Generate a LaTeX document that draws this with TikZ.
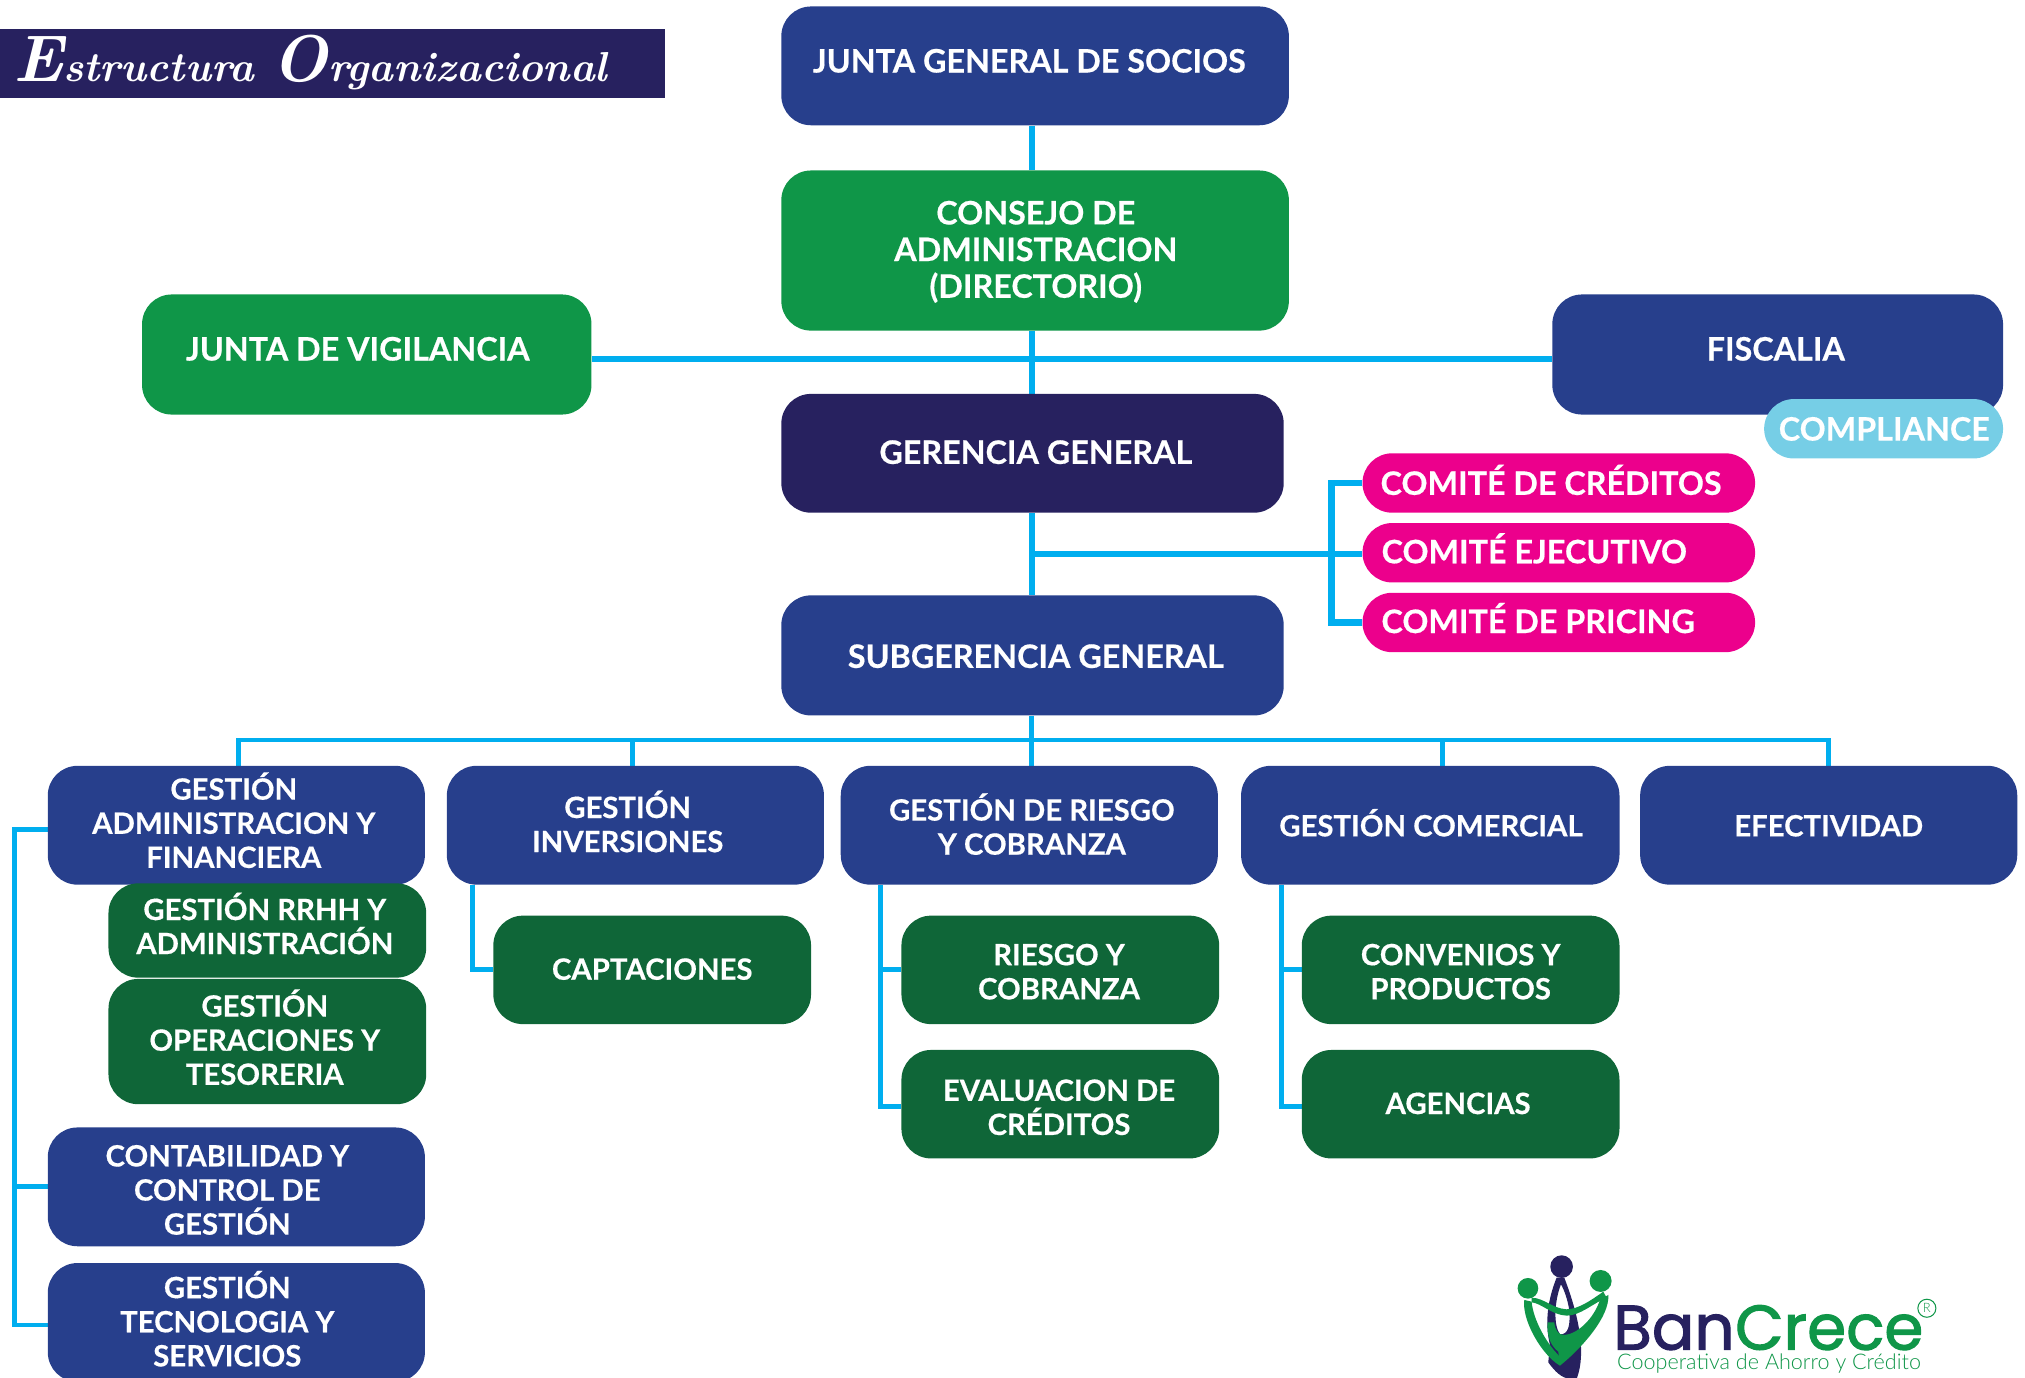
\documentclass[tikz,border=0pt]{standalone}
\usepackage{fontspec}
\usepackage{graphicx}
\usetikzlibrary{backgrounds}
\newfontfamily\boxfont[BoldFeatures={FakeBold=0.5}]{Lato}
\newfontfamily\logofont[FakeBold=1.8]{Poppins}
\newfontfamily\subfont{Lato Light}
\definecolor{cblue}{HTML}{273F8C}
\definecolor{cgreen}{HTML}{0F9648}
\definecolor{cdgreen}{HTML}{0F6638}
\definecolor{cnavy}{HTML}{27215F}
\definecolor{cpink}{HTML}{EC008C}
\definecolor{clight}{HTML}{76CEE6}
\definecolor{cline}{HTML}{00AEEF}
\tikzset{
  x=1pt,y=-1pt,
  box/.style={rectangle,rounded corners=23pt,inner sep=0pt,text=white,font=\boxfont\bfseries\fontsize{22.7}{26.4}\selectfont},
  big/.style={font=\boxfont\bfseries\fontsize{25}{28.4}\selectfont},
  blue box/.style={box,fill=cblue},
  green box/.style={box,fill=cgreen},
  dgreen box/.style={box,fill=cdgreen},
  navy box/.style={box,fill=cnavy},
  pink box/.style={box,fill=cpink},
  light box/.style={box,fill=clight},
  conn/.style={draw=cline,line width=3.8pt,line join=miter},
  conn thick/.style={conn,line width=4.8pt},
}
\newcommand{\sm}[1]{\smash{#1}}
\newcommand{\boff}{\ifdim\baselineskip>27pt 9.7pt\else 8.5pt\fi}
% \bx{style}{name}{x0}{y0}{x1}{y1}{text cx}{text cy}{lines}
\newcommand{\bx}[9]{%
  \pgfmathsetmacro{\bw}{#5-#3}\pgfmathsetmacro{\bh}{#6-#4}%
  \pgfmathsetmacro{\bcx}{(#3+#5)/2}\pgfmathsetmacro{\bcy}{(#4+#6)/2}%
  \pgfmathsetmacro{\bdx}{2*(#7-\bcx)}\pgfmathsetmacro{\bdy}{-(#8-\bcy)}%
  \node[#1,minimum width=\bw pt,minimum height=\bh pt] (#2) at (\bcx,\bcy)
    {\makebox[0pt]{\hspace*{\bdx pt}\raisebox{\dimexpr\bdy pt-\boff\relax}[0pt][0pt]{\begin{tabular}{@{}c@{}}#9\end{tabular}}}};%
}
\begin{document}
\begin{tikzpicture}
\useasboundingbox (0,0) rectangle (1568,1067);
% title
\node[rectangle,fill=cnavy,minimum width=515pt,minimum height=54pt,inner sep=0pt,anchor=north west] (banner) at (0,22) {};
\node[text=white,inner sep=0pt,anchor=base west,font=\itshape\bfseries\fontsize{36}{40}\selectfont] (title) at (10,63) {\resizebox{460pt}{!}{\fontsize{60}{60}\selectfont E\fontsize{38}{40}\selectfont structura \fontsize{60}{60}\selectfont O\fontsize{38}{40}\selectfont rganizacional}};
% boxes
\bx{blue box,big}{jgs}{605}{5}{998}{97}{797}{47}{JUNTA GENERAL DE SOCIOS}
\bx{green box,big}{consejo}{605}{132}{998}{256}{802}{193}{CONSEJO DE\\ADMINISTRACION\\(DIRECTORIO)}
\bx{green box,big}{vig}{110}{228}{458}{321}{277}{270}{JUNTA DE VIGILANCIA}
\bx{blue box,big}{fis}{1202}{228}{1551}{321}{1375}{270}{FISCALIA}
\bx{light box,big}{comp}{1366}{309}{1551}{355}{1459}{332}{COMPLIANCE}
\bx{navy box,big}{gg}{605}{305}{994}{397}{802}{350}{GERENCIA GENERAL}
\bx{blue box,big}{sg}{605}{461}{994}{554}{802}{508}{SUBGERENCIA GENERAL}
\bx{pink box,big}{com1}{1055}{351}{1359}{397}{1201}{374}{\sm{COMITÉ DE CRÉDITOS}}
\bx{pink box,big}{com2}{1055}{405}{1359}{451}{1188}{427}{\sm{COMITÉ EJECUTIVO}}
\bx{pink box,big}{com3}{1055}{459}{1359}{505}{1191}{481}{\sm{COMITÉ DE PRICING}}
\bx{blue box}{g1}{37}{593}{329}{685}{181}{637}{\sm{GESTIÓN}\\ADMINISTRACION Y\\FINANCIERA}
\bx{blue box}{g2}{346}{593}{638}{685}{486}{638}{\sm{GESTIÓN}\\INVERSIONES}
\bx{blue box}{g3}{651}{593}{943}{685}{799}{640}{\sm{GESTIÓN DE RIESGO}\\Y COBRANZA}
\bx{blue box}{g4}{961}{593}{1254}{685}{1108}{639}{\sm{GESTIÓN COMERCIAL}}
\bx{blue box}{g5}{1270}{593}{1562}{685}{1416}{639}{EFECTIVIDAD}
\bx{dgreen box}{rrhh}{84}{684}{330}{757}{205}{717}{\sm{GESTIÓN RRHH Y}\\\sm{ADMINISTRACIÓN}}
\bx{dgreen box}{oper}{84}{758}{330}{855}{205}{805}{\sm{GESTIÓN}\\OPERACIONES Y\\TESORERIA}
\bx{blue box}{cont}{37}{873}{329}{965}{176}{921}{CONTABILIDAD Y\\CONTROL DE\\\sm{GESTIÓN}}
\bx{blue box}{tec}{37}{978}{329}{1070}{176}{1023}{\sm{GESTIÓN}\\TECNOLOGIA Y\\SERVICIOS}
\bx{dgreen box}{capt}{382}{709}{628}{793}{505}{750}{CAPTACIONES}
\bx{dgreen box}{ries}{698}{709}{944}{793}{820}{752}{RIESGO Y\\COBRANZA}
\bx{dgreen box}{eval}{698}{813}{944}{897}{820}{857}{EVALUACION DE\\\sm{CRÉDITOS}}
\bx{dgreen box}{conv}{1008}{709}{1254}{793}{1131}{752}{CONVENIOS Y\\PRODUCTOS}
\bx{dgreen box}{agen}{1008}{813}{1254}{897}{1129}{854}{AGENCIAS}
% connector guides
\coordinate (v0) at (799,0);
\coordinate (hv) at (0,278);
\coordinate (hc) at (0,429);
\coordinate (hb) at (0,573);
\coordinate (bc) at (1031,0);
\coordinate (bl) at (11,0);
\coordinate (b2) at (366,0);
\coordinate (b3) at (682,0);
\coordinate (b4) at (992,0);
\coordinate (d1) at (185,0);
\coordinate (d2) at (490,0);
\coordinate (d4) at (1117,0);
\coordinate (d5) at (1416,0);
\begin{pgfonlayer}{background}
\draw[conn thick] (v0 |- jgs.south) -- (v0 |- consejo.north);
\draw[conn thick] (v0 |- consejo.south) -- (v0 |- gg.north);
\draw[conn thick] (v0 |- gg.south) -- (v0 |- sg.north);
\draw[conn thick] (vig.east |- hv) -- (fis.west |- hv);
\draw[conn thick] (v0 |- hc) -- (com2.west |- hc);
\draw[conn thick] (com1.west |- 0,374) -| (bc |- com3.west) -- (com3.west |- 0,482);
\draw[conn] (d1 |- g1.north) |- (d5 |- hb) -- (d5 |- g5.north);
\draw[conn] (v0 |- sg.south) -- (v0 |- g3.north);
\draw[conn] (d2 |- hb) -- (d2 |- g2.north);
\draw[conn] (d4 |- hb) -- (d4 |- g4.north);
\draw[conn] (g1.west |- 0,642) -| (bl |- 0,1026) -- (tec.west |- 0,1026);
\draw[conn] (bl |- cont.west) -- (cont.west);
\draw[conn] (b2 |- g2.south) |- (capt.west);
\draw[conn] (b3 |- g3.south) |- (eval.west |- 0,857);
\draw[conn] (b3 |- ries.west) -- (ries.west);
\draw[conn] (b4 |- g4.south) |- (agen.west |- 0,857);
\draw[conn] (b4 |- conv.west) -- (conv.west);
\end{pgfonlayer}
% logo
\begin{scope}[shift={(1165.3,964)},scale=0.2581]
\fill[cnavy,even odd rule] (155,98) .. controls (130,160) and (118,230) .. (135,300) -- (130,352) .. controls (150,380) and (170,399) .. (195,402) -- (215,402) .. controls (235,350) and (240,260) .. (178,98) -- cycle
  (168,118) .. controls (148,170) and (145,240) .. (165,268) .. controls (190,270) and (198,240) .. (192,190) .. controls (188,165) and (178,135) .. (168,118) -- cycle;
\fill[cnavy] (170,65) circle[radius=34];
\fill[cgreen] (287,108) circle[radius=33];
\fill[cgreen] (69,130) circle[radius=31];
\fill[cgreen] (58,165) .. controls (50,225) and (110,330) .. (165,362) -- (175,345) .. controls (125,300) and (85,225) .. (80,170) -- cycle;
\fill[cgreen] (80,158) .. controls (120,160) and (140,190) .. (185,193) .. controls (220,193) and (260,165) .. (295,140) -- (305,158) .. controls (260,178) and (225,212) .. (185,212) .. controls (140,210) and (110,175) .. (80,172) -- cycle;
\fill[cgreen] (310,150) .. controls (315,215) and (230,310) .. (165,362) -- (160,320) .. controls (135,300) and (125,270) .. (128,232) -- (148,232) .. controls (150,255) and (160,270) .. (178,270) .. controls (215,268) and (265,225) .. (285,165) -- cycle;
\end{scope}
\node[inner sep=0pt,anchor=base west,font=\logofont\fontsize{48.7}{52}\selectfont,text=cnavy] (ban) at (1249,1045) {Ban};
\node[inner sep=0pt,anchor=base west,font=\logofont\fontsize{48.7}{52}\selectfont,text=cgreen] (crece) at (ban.base east) {Crece};
\node[inner sep=0pt,anchor=base west,font=\subfont\fontsize{16.7}{20}\selectfont,text=cgreen] (coop) at (1252,1060.5) {Cooperativa de Ahorro y Crédito};
\node[circle,draw=cgreen,line width=0.8pt,minimum size=14pt,inner sep=0pt,font=\subfont\fontsize{10}{10}\selectfont,text=cgreen] (reg) at (1492,1013) {R};
\end{tikzpicture}
\end{document}
